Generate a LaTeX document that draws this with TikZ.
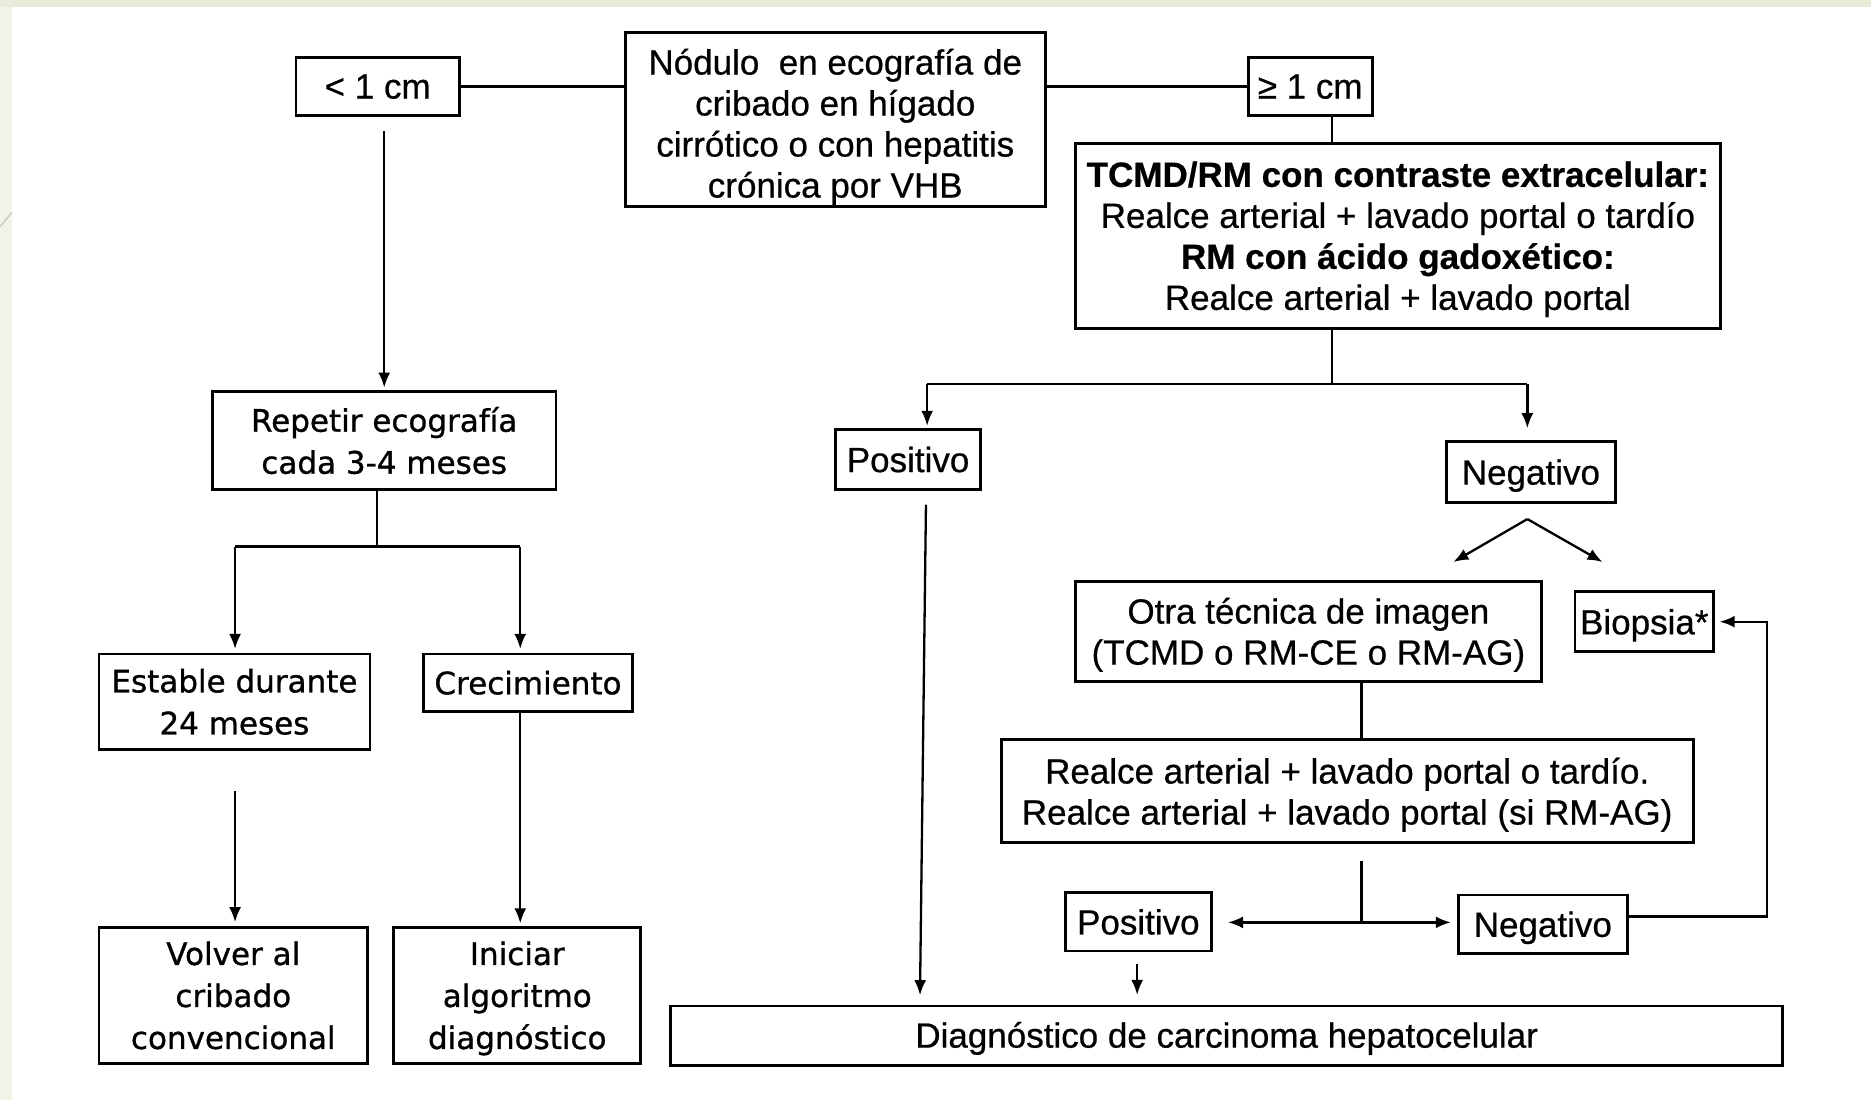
\documentclass[tikz,border=0pt]{standalone}
\usepackage{fontspec}
\setmainfont{Liberation Sans}[FakeBold=0.6]
\newfontfamily\dvfont{DejaVu Sans}[FakeBold=0.9]
\usetikzlibrary{arrows.meta,calc}
\definecolor{bgpale}{HTML}{F0F3E6}
\definecolor{bgtop}{HTML}{E8EDD9}
\def\u{1.1932pt}
\begin{document}
\begin{tikzpicture}[x=1.1932pt,y=-1.1932pt,
  box/.style={draw,line width=2.8pt,inner sep=0pt,align=center,text depth=0pt,font=\fontsize{35}{41}\selectfont},
  lbox/.style={box,font=\dvfont\fontsize{31}{42}\selectfont},
  conn/.style={line width=2.3pt},
  arr/.style={conn,-{Latex[length=15pt,width=12pt]}}]
\useasboundingbox (0,0) rectangle (1568,922);
\fill[bgpale] (0,0) rectangle (1568,922);
\fill[bgtop] (0,0) rectangle (1568,6);
\fill[white] (10,6) rectangle (1568,922);
\draw[black!25,line width=1pt] (0,190) -- (10,178);

% nodes
\node[box,minimum width=137*\u,minimum height=49*\u] (lt) at (316.5,72.5) {< 1 cm};
\node[box,text depth={},minimum width=352*\u,minimum height=146*\u] (main) at (700,100)
  {\raisebox{-8.5pt}[\height][\depth]{\begin{tabular}{@{}c@{}}Nódulo\ \ en ecografía de\\cribado en hígado\\cirrótico o con hepatitis\\crónica por VHB\end{tabular}}};
\node[box,minimum width=104*\u,minimum height=49*\u] (ge) at (1098,72.5) {≥ 1 cm};
\node[box,minimum width=541*\u,minimum height=155*\u] (tcmd) at (1171.5,197.5)
  {\textbf{TCMD/RM con contraste extracelular:}\\Realce arterial + lavado portal o tardío\\\textbf{RM con ácido gadoxético:}\\Realce arterial + lavado portal};
\node[box,minimum width=122*\u,minimum height=50*\u] (pos1) at (761,385) {Positivo};
\node[box,minimum width=142*\u,minimum height=51*\u] (neg1) at (1283,395.5) {Negativo};
\node[lbox,minimum width=288*\u,minimum height=82*\u] (rep) at (322,369) {Repetir ecografía\\cada 3-4 meses};
\node[lbox,minimum width=227*\u,minimum height=80*\u] (est) at (196.5,588) {Estable durante\\24 meses};
\node[lbox,minimum width=175*\u,minimum height=48*\u] (crec) at (442.5,572) {Crecimiento};
\node[lbox,minimum width=225*\u,minimum height=114*\u] (vol) at (195.5,834) {Volver al\\cribado\\convencional};
\node[lbox,minimum width=207*\u,minimum height=114*\u] (ini) at (433.5,834) {Iniciar\\algoritmo\\diagnóstico};
\node[box,minimum width=391*\u,minimum height=84*\u] (otra) at (1096.5,529) {Otra técnica de imagen\\(TCMD o RM-CE o RM-AG)};
\node[box,minimum width=116*\u,minimum height=50*\u] (bio) at (1378,521) {Biopsia*};
\node[box,minimum width=580*\u,minimum height=86*\u] (realce) at (1129,663)
  {Realce arterial + lavado portal o tardío.\\Realce arterial + lavado portal (si RM-AG)};
\node[box,minimum width=122*\u,minimum height=49*\u] (pos2) at (954,772.5) {Positivo};
\node[box,minimum width=142*\u,minimum height=49*\u] (neg2) at (1293,774.5) {Negativo};
\node[box,minimum width=932*\u,minimum height=50*\u,text depth=2pt] (diag) at (1028,868) {Diagnóstico de carcinoma hepatocelular};

% junction coordinates
\coordinate (jR) at (1116,322);
\coordinate (jRl) at (777,322);
\coordinate (jRr) at (1280,322);
\coordinate (lx) at (322,110);
\coordinate (jL) at (316,458);
\coordinate (jLl) at (197,458);
\coordinate (jLr) at (436,458);
\coordinate (e1) at (197,663);
\coordinate (p1) at (776,423);
\coordinate (p1e) at (771,834);
\coordinate (n1) at (1280,435);
\coordinate (n1a) at (1218,471);
\coordinate (n1b) at (1343,471);
\coordinate (jO) at (1141,773);
\coordinate (jB) at (1481,768);
\coordinate (p2) at (953,808);

% top connectors
\draw[conn] (lt.east) -- (main.west |- lt.east);
\draw[conn] (main.east |- ge.west) -- (ge.west);
\draw[conn] (ge.south -| jR) -- (tcmd.north -| jR);
\draw[conn] (tcmd.south -| jR) -- (jR);
\draw[conn] (jRl) -- (jRr);
\draw[arr] (jRl) -- ($(pos1.north -| jRl)+(0,-2)$);
\draw[arr] (jRr) -- ($(neg1.north -| jRr)+(0,-10)$);

% left branch
\draw[arr] (lx) -- ($(rep.north -| lx)+(0,-2)$);
\draw[conn] (rep.south -| jL) -- (jL);
\draw[conn] (jLl) -- (jLr);
\draw[arr] (jLl) -- ($(est.north -| jLl)+(0,-3)$);
\draw[arr] (jLr) -- ($(crec.north -| jLr)+(0,-3)$);
\draw[arr] (e1) -- ($(vol.north -| e1)+(0,-3)$);
\draw[arr] (crec.south -| jLr) -- ($(ini.north -| jLr)+(0,-2)$);

% right branch
\draw[arr] (p1) -- (p1e);
\draw[arr] (n1) -- (n1a);
\draw[arr] (n1) -- (n1b);
\draw[conn] (otra.south -| jO) -- (realce.north -| jO);
\draw[conn] ($(realce.south -| jO)+(0,14)$) -- (jO);
\draw[arr] (jO) -- ($(pos2.east |- jO)+(13,0)$);
\draw[arr] (jO) -- ($(neg2.west |- jO)+(-5,0)$);
\draw[arr] (neg2.east |- jB) -- (jB) -- (jB |- bio.east) -- ($(bio.east)+(4,0)$);
\draw[arr] (p2) -- ($(diag.north -| p2)+(0,-8)$);
\end{tikzpicture}
\end{document}
